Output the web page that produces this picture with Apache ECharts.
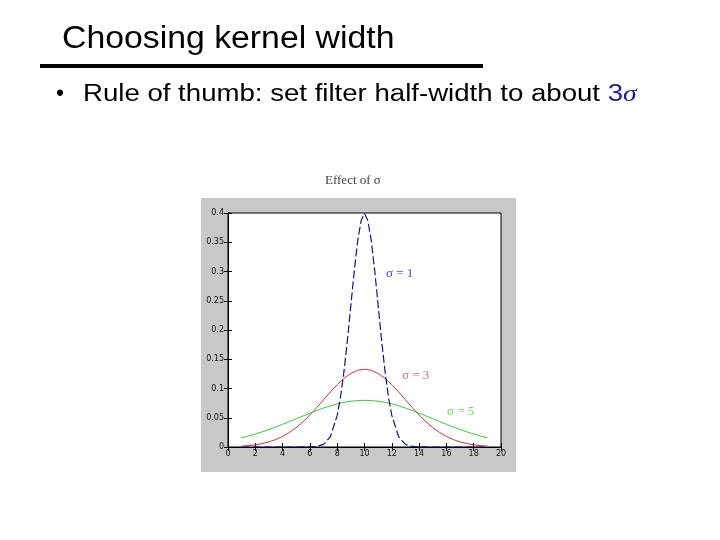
<!DOCTYPE html>
<html>
<head>
<meta charset="utf-8">
<script src="https://cdn.jsdelivr.net/npm/echarts@6/dist/echarts.min.js"></script>
<style>
  html, body { margin: 0; padding: 0; background: #fff; }
  #main { width: 720px; height: 540px; }
</style>
</head>
<body>
<div id="main"></div>
<script>
// x positions for the wide curves (step 0.5 from 1 to 19)
var xs = [1, 1.5, 2, 2.5, 3, 3.5, 4, 4.5, 5, 5.5, 6, 6.5, 7, 7.5, 8, 8.5, 9, 9.5, 10,
  10.5, 11, 11.5, 12, 12.5, 13, 13.5, 14, 14.5, 15, 15.5, 16, 16.5, 17, 17.5, 18, 18.5, 19]

// x positions for the narrow curve (finer around the peak)
var xsNarrow = [1, 2, 3, 4, 5, 6, 6.5, 7, 7.5, 8, 8.25, 8.5, 8.75, 9, 9.25, 9.5, 9.75, 10,
  10.25, 10.5, 10.75, 11, 11.25, 11.5, 11.75, 12, 12.5, 13, 13.5, 14, 15, 16, 17, 18, 19]

// sigma = 1 (blue, dashed)
var sigma1 = [0, 0, 0, 0, 0, 0.0001, 0.0009, 0.0044, 0.0175, 0.054, 0.0863, 0.130, 0.1826, 0.242, 0.301, 0.352, 0.3866, 0.399,
  0.3866, 0.352, 0.301, 0.242, 0.1826, 0.130, 0.0863, 0.054, 0.0175, 0.0044, 0.0009, 0.0001, 0, 0, 0, 0, 0]

// sigma = 3 (red)
var sigma3 = [0.0015, 0.0024, 0.0038, 0.0058, 0.0087, 0.0127, 0.018, 0.0248, 0.0332, 0.0432, 0.0547, 0.0673, 0.0807, 0.0941, 0.1065, 0.1174, 0.1258, 0.1312, 0.133,
  0.1312, 0.1258, 0.1174, 0.1065, 0.0941, 0.0807, 0.0673, 0.0547, 0.0432, 0.0332, 0.0248, 0.018, 0.0127, 0.0087, 0.0058, 0.0038, 0.0024, 0.0015]

// sigma = 5 (green)
var sigma5 = [0.0158, 0.0188, 0.0222, 0.0259, 0.0299, 0.0343, 0.0388, 0.0436, 0.0484, 0.0532, 0.0579, 0.0624, 0.0666, 0.0704, 0.0737, 0.0763, 0.0782, 0.0794, 0.0798,
  0.0794, 0.0782, 0.0763, 0.0737, 0.0704, 0.0666, 0.0624, 0.0579, 0.0532, 0.0484, 0.0436, 0.0388, 0.0343, 0.0299, 0.0259, 0.0222, 0.0188, 0.0158]

function zip (xv, ys) {
  return xv.map(function (x, i) { return [x, ys[i]] })
}

var chart = echarts.init(document.getElementById('main'))

var tickStyle = { inside: true, length: 4, lineStyle: { color: '#000' } }
var axisFont = { fontFamily: 'DejaVu Sans', fontSize: 8, color: '#111' }

chart.setOption({
  animation: false,
  backgroundColor: '#fff',
  grid: {
    left: 228, top: 213, width: 273, height: 234,
    show: true, backgroundColor: '#fff', borderColor: '#000', borderWidth: 1
  },
  xAxis: [
    {
      type: 'value', min: 0, max: 20, interval: 2,
      axisLine: { lineStyle: { color: '#000' } },
      axisTick: tickStyle,
      axisLabel: Object.assign({ margin: 3 }, axisFont),
      splitLine: { show: false }
    },
    {
      type: 'value', position: 'top', min: 0, max: 20, interval: 2,
      axisLine: { lineStyle: { color: '#000' } },
      axisTick: tickStyle, axisLabel: { show: false }, splitLine: { show: false }
    }
  ],
  yAxis: [
    {
      type: 'value', min: 0, max: 0.4, interval: 0.05,
      axisLine: { show: true, lineStyle: { color: '#000' } },
      axisTick: { show: true, inside: true, length: 4, lineStyle: { color: '#000' } },
      axisLabel: Object.assign({ margin: 4 }, axisFont),
      splitLine: { show: false }
    },
    {
      type: 'value', position: 'right', min: 0, max: 0.4, interval: 0.05,
      axisLine: { show: true, lineStyle: { color: '#000' } },
      axisTick: { show: true, inside: true, length: 4, lineStyle: { color: '#000' } },
      axisLabel: { show: false }, splitLine: { show: false }
    }
  ],
  series: [
    {
      name: 'σ = 3', type: 'line', data: zip(xs, sigma3), showSymbol: false,
      lineStyle: { color: '#d03030', width: 1 }, z: 2
    },
    {
      name: 'σ = 5', type: 'line', data: zip(xs, sigma5), showSymbol: false,
      lineStyle: { color: '#30d030', width: 1 }, z: 2
    },
    {
      name: 'σ = 1', type: 'line', data: zip(xsNarrow, sigma1), showSymbol: false,
      lineStyle: { color: '#1010a0', width: 1.2, type: [8, 3] }, z: 3
    }
  ],
  graphic: [
    // slide title (slide text is a bit stretched sideways)
    { type: 'text', x: 62, y: 24, scaleX: 1.09, z: 10,
      style: { text: 'Choosing kernel width', font: '31px "Liberation Sans"', fill: '#000' } },
    { type: 'rect', shape: { x: 40, y: 64, width: 443, height: 4 }, style: { fill: '#000' } },
    // bullet
    { type: 'text', x: 56, y: 83, z: 10,
      style: { text: '•', font: '23px "Liberation Sans"', fill: '#000' } },
    { type: 'text', x: 83, y: 83, scaleX: 1.2, z: 10,
      style: {
        text: '{a|Rule of thumb: set filter half-width to about }{b|3}{c|σ}',
        rich: {
          a: { font: '23px "Liberation Sans"', fill: '#000' },
          b: { font: '23px "Liberation Sans"', fill: '#1a1a9a' },
          c: { font: 'italic 23px "Liberation Serif"', fill: '#1a1a9a' }
        }
      } },
    // gray figure frame
    { type: 'rect', z: -10, silent: true, shape: { x: 201, y: 198, width: 315, height: 274 }, style: { fill: '#c8c8c8' } },
    // figure title
    { type: 'text', left: 325, top: 174, z: 10,
      style: { text: 'Effect of σ', font: '13px "Liberation Serif"', fill: '#444' } },
    // curve annotations
    { type: 'text', left: 386, top: 267, z: 10,
      style: { text: 'σ = 1', font: '13px "Liberation Serif"', fill: '#4848c0' } },
    { type: 'text', left: 402, top: 369, z: 10,
      style: { text: 'σ = 3', font: '13px "Liberation Serif"', fill: '#e06868' } },
    { type: 'text', left: 447, top: 405, z: 10,
      style: { text: 'σ = 5', font: '13px "Liberation Serif"', fill: '#68e068' } }
  ]
})
</script>
</body>
</html>
